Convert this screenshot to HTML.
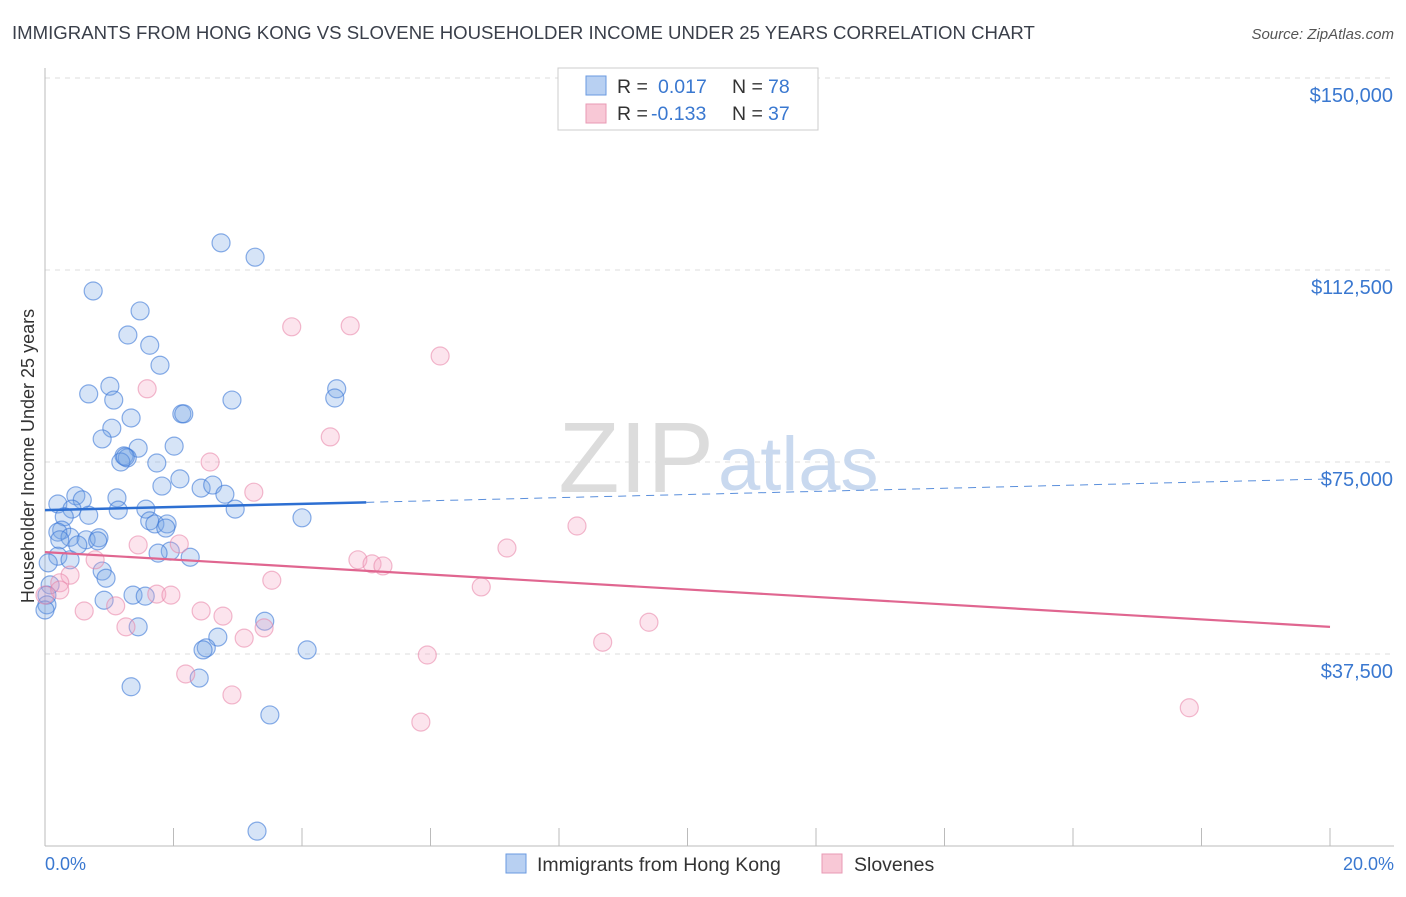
<!DOCTYPE html>
<html><head><meta charset="utf-8"><style>
body{margin:0;background:#fff;font-family:"Liberation Sans",sans-serif}
svg text{font-family:"Liberation Sans",sans-serif}
</style></head><body>
<svg width="1406" height="892" viewBox="0 0 1406 892">
<text x="12" y="39" font-size="18.6" fill="#3a3f4a">IMMIGRANTS FROM HONG KONG VS SLOVENE HOUSEHOLDER INCOME UNDER 25 YEARS CORRELATION CHART</text>
<text x="1394" y="39" font-size="15" fill="#555" font-style="italic" text-anchor="end">Source: ZipAtlas.com</text>
<g id="grid"></g>
<text x="714" y="492" font-size="100" font-family="Liberation Serif" fill="#dcdcdc" text-anchor="end">ZIP</text>
<text x="718" y="490" font-size="76" fill="#c9d9ef">atlas</text>
<g id="marks"></g>
<text x="34" y="456" font-size="18" fill="#333" text-anchor="middle" transform="rotate(-90 34 456)">Householder Income Under 25 years</text>
<text x="45" y="870" font-size="18" fill="#3a78d0">0.0%</text>
<text x="1394" y="870" font-size="18" fill="#3a78d0" text-anchor="end">20.0%</text>
<g>
<rect x="558" y="68" width="260" height="62" fill="#fff" stroke="#ccc"/>
<rect x="586" y="76" width="20" height="19" fill="#b8d0f2" stroke="#6a9ae0"/>
<rect x="586" y="104" width="20" height="19" fill="#f8c8d6" stroke="#e89ab4"/>
<text x="617" y="93" font-size="19.5" fill="#333">R = </text><text x="658" y="93" font-size="19.5" fill="#3a78d0">0.017</text>
<text x="732" y="93" font-size="19.5" fill="#333">N = </text><text x="768" y="93" font-size="19.5" fill="#3a78d0">78</text>
<text x="617" y="120" font-size="19.5" fill="#333">R = </text><text x="651" y="120" font-size="19.5" fill="#3a78d0">-0.133</text>
<text x="732" y="120" font-size="19.5" fill="#333">N = </text><text x="768" y="120" font-size="19.5" fill="#3a78d0">37</text>
</g>
<g>
<rect x="506" y="854" width="20" height="19" fill="#b8d0f2" stroke="#6a9ae0"/>
<text x="537" y="871" font-size="19.5" fill="#333">Immigrants from Hong Kong</text>
<rect x="822" y="854" width="20" height="19" fill="#f8c8d6" stroke="#e89ab4"/>
<text x="854" y="871" font-size="19.5" fill="#333">Slovenes</text>
</g>
</svg>
<script>
const yTicks=[37500,75000,112500,150000];
const yTickLabels=["$37,500","$75,000","$112,500","$150,000"];
const xTicks=[0,2,4,6,8,10,12,14,16,18,20];
const blueX=[2.74,3.27,0.75,1.48,1.29,1.63,1.79,1.01,0.68,1.07,2.91,2.13,2.16,1.34,1.04,0.89,1.45,2.01,1.23,1.28,1.18,1.74,2.10,1.82,2.43,2.61,2.80,0.48,0.58,1.12,0.20,1.14,0.42,1.57,2.96,0.68,0.30,1.63,1.71,1.90,1.88,4.00,0.26,0.20,0.39,0.64,0.84,0.82,0.23,0.51,1.95,1.76,2.26,0.20,0.05,0.39,0.89,0.95,0.08,0.03,0.03,0.00,1.37,1.56,0.92,1.45,3.42,2.69,2.51,2.46,4.08,2.40,1.34,3.50,3.30,4.54,4.51,1.25];
const blueY=[117800,115000,108400,104500,99800,97800,93900,89800,88300,87100,87100,84400,84400,83600,81600,79500,77700,78100,76200,75800,75000,74800,71700,70300,69900,70500,68700,68400,67600,68000,66800,65600,65800,65800,65800,64600,64300,63500,62900,62900,62100,64100,61700,61300,60300,59800,60200,59600,59800,58800,57600,57200,56400,56600,55300,55900,53700,52300,51000,49000,47100,46100,49000,48800,48000,42800,43900,40800,38700,38300,38300,32800,31100,25600,2900,89300,87500,76000];
const pinkX=[3.84,4.75,6.15,1.59,4.44,2.57,3.25,8.28,7.19,1.45,2.09,0.78,4.87,5.09,5.26,3.53,0.39,0.23,6.79,1.74,1.96,0.00,1.10,0.61,2.43,2.77,9.40,1.26,3.41,3.10,8.68,5.95,2.19,2.91,5.85,17.81,0.23];
const pinkY=[101400,101600,95700,89300,79900,75000,69100,62500,58200,58800,59000,55900,55900,55100,54700,51900,52900,51400,50600,49200,49000,49000,46900,45900,45900,44900,43700,42800,42600,40600,39800,37300,33600,29500,24200,27000,50000];
const blueTrend=[65600,71700];
const pinkTrend=[57400,42800];
const NS="http://www.w3.org/2000/svg";
const X0=45,X1=1330,Y0=846;
const sx=v=>X0+v/20*(X1-X0);
const sy=v=>Y0-v/37500*192;
function mk(tag,attrs,parent){const e=document.createElementNS(NS,tag);for(const k in attrs)e.setAttribute(k,attrs[k]);parent.appendChild(e);return e;}
const grid=document.getElementById('grid'),marks=document.getElementById('marks');
yTicks.forEach((t,i)=>{
 const l=mk('line',{x1:X0,x2:1394,y1:sy(t),y2:sy(t),stroke:'#ddd','stroke-dasharray':'5,5'},grid);
 
 
 const tx=mk('text',{x:1393,y:sy(t)+24,'font-size':20,fill:'#3a78d0','text-anchor':'end'},grid);
 tx.textContent=yTickLabels[i];
 
 
});
const ax=mk('line',{x1:X0,x2:X0,y1:68,y2:Y0,stroke:'#bbb'},grid);


const bx=mk('line',{x1:X0,x2:1394,y1:Y0,y2:Y0,stroke:'#bbb'},grid);


xTicks.forEach(t=>{
 const l=mk('line',{x1:sx(t),x2:sx(t),y1:828,y2:Y0,stroke:'#bbb'},grid);
 
 
});
blueX.forEach((x,i)=>{
 const c=mk('circle',{cx:sx(x),cy:sy(blueY[i]),r:9,fill:'rgba(120,165,230,0.3)',stroke:'rgba(60,120,215,0.6)','stroke-width':1.2},marks);
 
 
});
pinkX.forEach((x,i)=>{
 const c=mk('circle',{cx:sx(x),cy:sy(pinkY[i]),r:9,fill:'rgba(245,165,195,0.3)',stroke:'rgba(232,130,165,0.55)','stroke-width':1.2},marks);
 
 
});
const bAt=x=>blueTrend[0]+(blueTrend[1]-blueTrend[0])*x/20;
const l1=mk('line',{x1:sx(0),y1:sy(bAt(0)),x2:sx(5),y2:sy(bAt(5)),stroke:'#2d6fd2','stroke-width':2.5},marks);


const l2=mk('line',{x1:sx(5),y1:sy(bAt(5)),x2:sx(20),y2:sy(bAt(20)),stroke:'#5a8fdc','stroke-width':1,'stroke-dasharray':'8,6'},marks);


const l3=mk('line',{x1:sx(0),y1:sy(pinkTrend[0]),x2:sx(20),y2:sy(pinkTrend[1]),stroke:'#e06690','stroke-width':2.2},marks);


</script>
</body></html>
